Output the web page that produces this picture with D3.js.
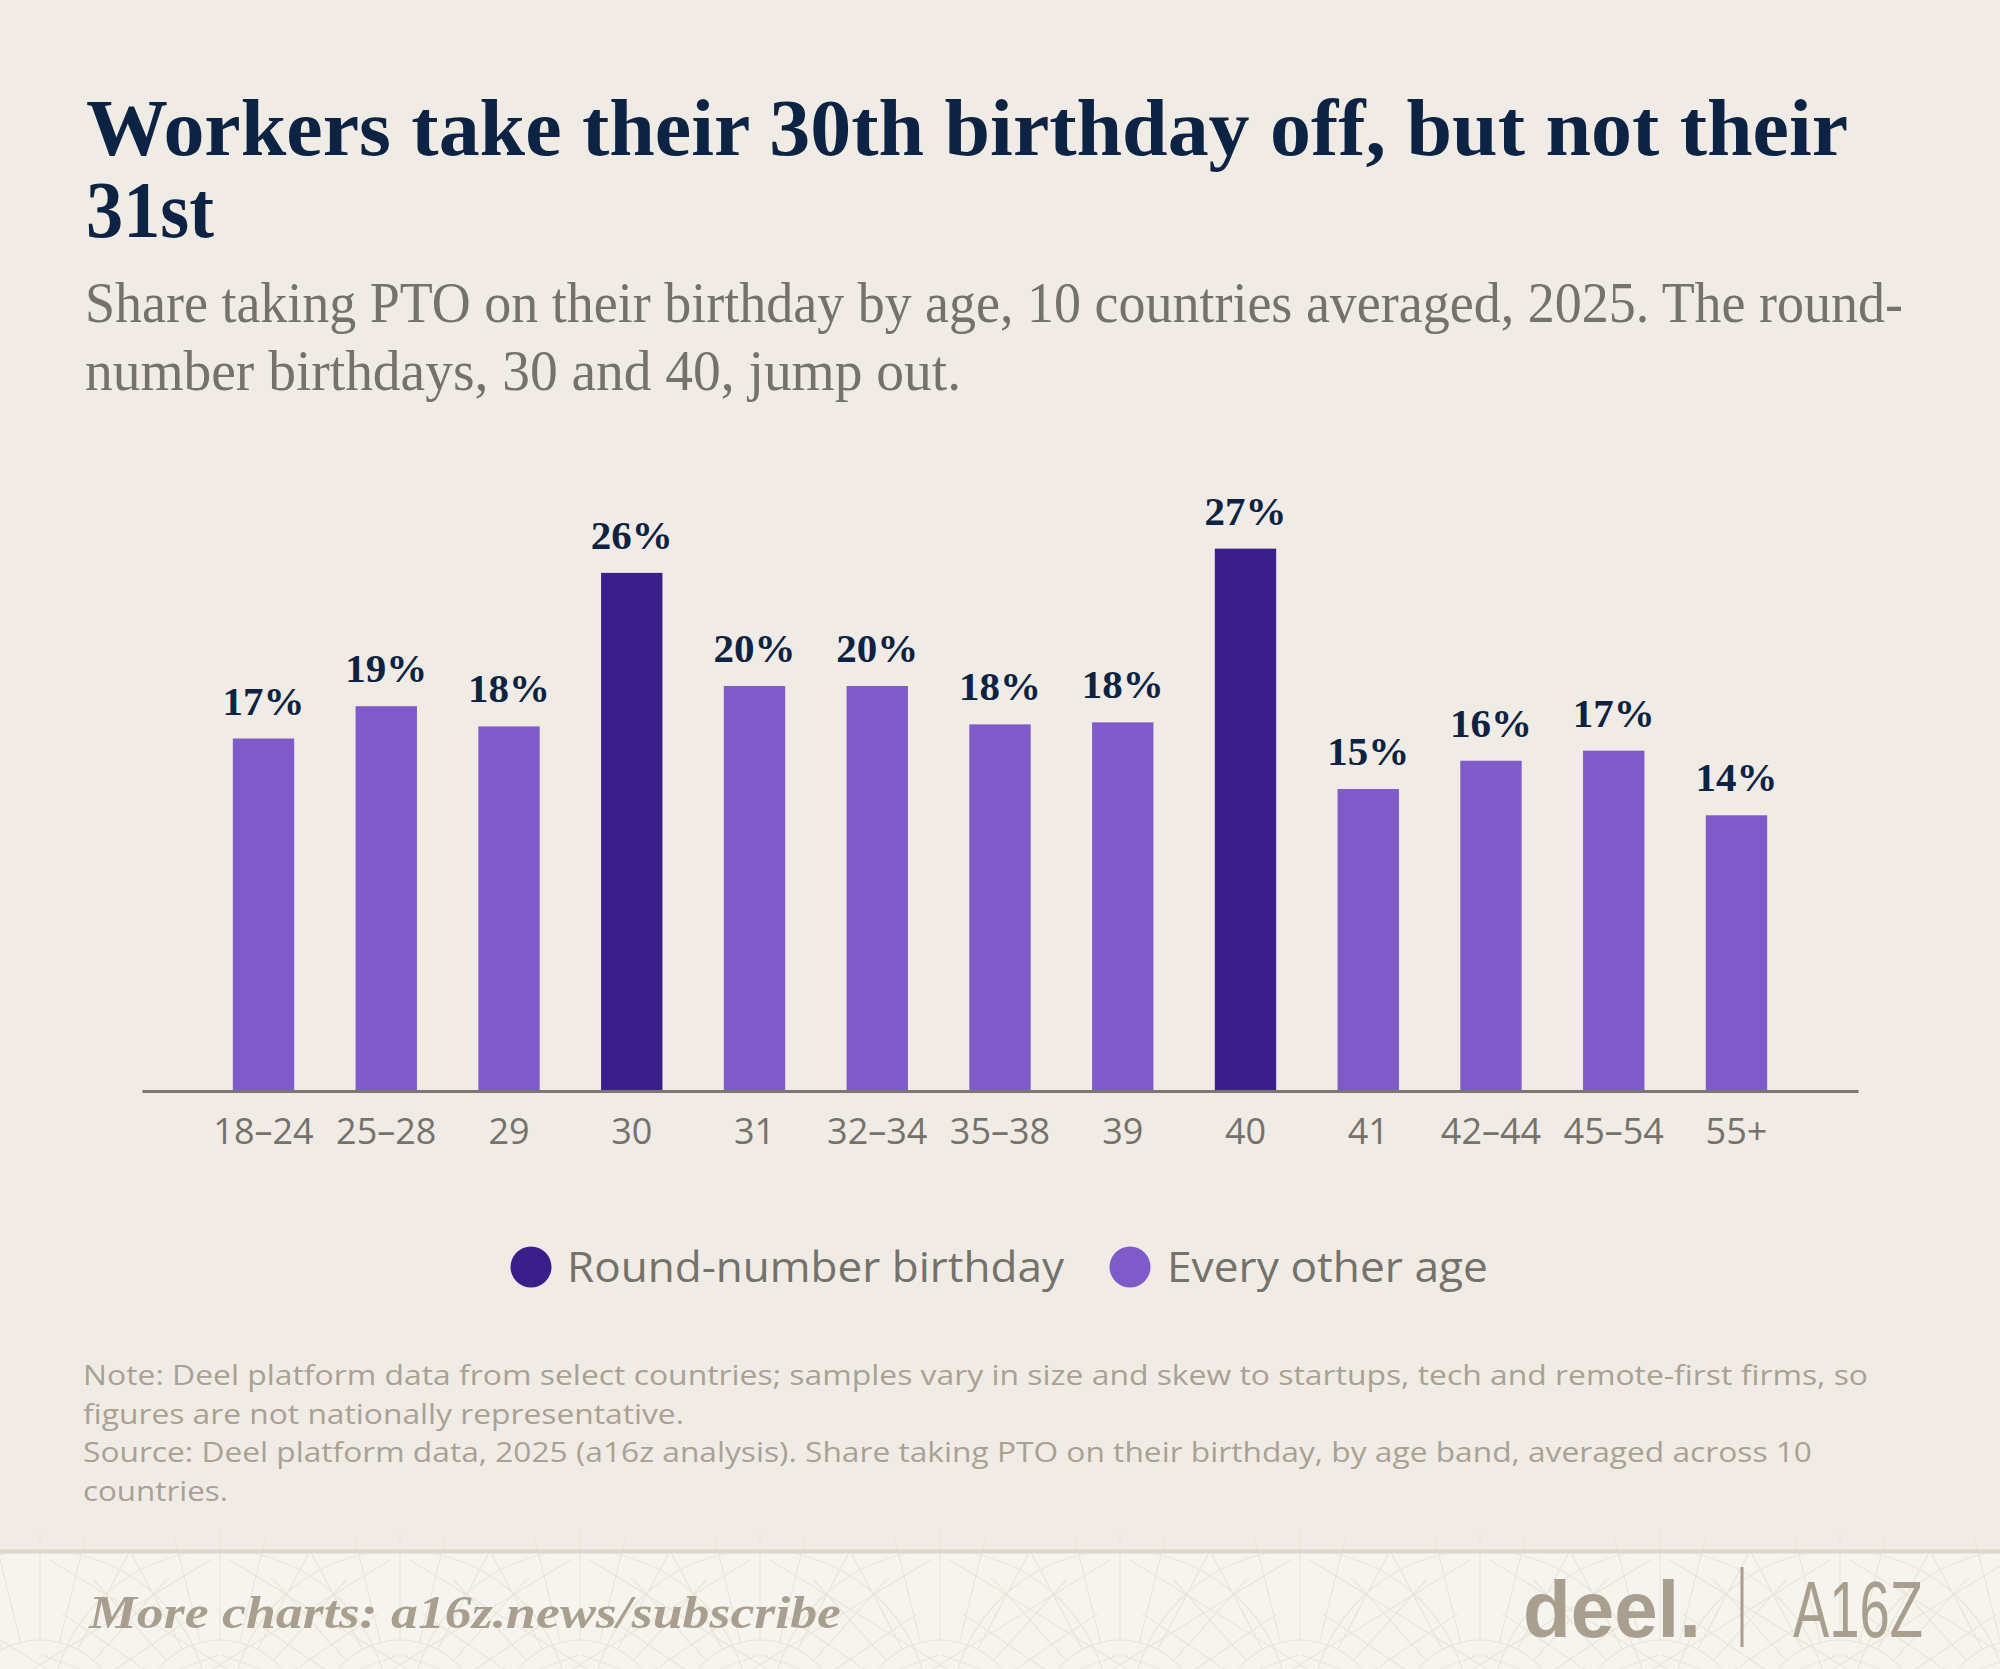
<!DOCTYPE html>
<html><head><meta charset="utf-8">
<script src="https://cdn.jsdelivr.net/npm/d3@7"></script>
<style>html,body{margin:0;padding:0;background:#f0ece5;} svg{display:block}</style>
</head><body>
<svg id="chart" width="2000" height="1669"></svg>
<script>
// ---------- data ----------
const categories = ["18–24","25–28","29","30","31","32–34","35–38","39","40","41","42–44","45–54","55+"];
const values = [17.4, 19.0, 18.0, 25.6, 20.0, 20.0, 18.1, 18.2, 26.8, 14.9, 16.3, 16.8, 13.6];
const roundAges = ["30","40"];
const legendLabels = ["Round-number birthday","Every other age"];
const titleLines = ["Workers take their 30th birthday off, but not their","31st"];
const subtitleLines = ["Share taking PTO on their birthday by age, 10 countries averaged, 2025. The round-","number birthdays, 30 and 40, jump out."];
const noteLines = [
  "Note: Deel platform data from select countries; samples vary in size and skew to startups, tech and remote-first firms, so",
  "figures are not nationally representative.",
  "Source: Deel platform data, 2025 (a16z analysis). Share taking PTO on their birthday, by age band, averaged across 10",
  "countries."
];
const footerText = "More charts: a16z.news/subscribe";

// ---------- styles ----------
const C = {
  bg: "#f0ece5", footerBg: "#f6f4ef", navy: "#0c2343", gray: "#75726b",
  note: "#a9a193", light: "#7e5bc8", dark: "#3a1e8a", axis: "#7b776f", logo: "#a89f8f"
};
const SERIF = "'Liberation Serif','Times New Roman',serif";
const SANS = "'Open Sans','Noto Sans',sans-serif";

const svg = d3.select("#chart");
svg.append("rect").attr("width",2000).attr("height",1669).attr("fill",C.bg);

function fit(sel, w){ sel.attr("textLength", w).attr("lengthAdjust","spacingAndGlyphs"); return sel; }

// ---------- title ----------
const titleW = [1762, 128];
titleLines.forEach((t,i)=>{
  fit(svg.append("text").attr("x",86).attr("y",155+i*82)
    .attr("font-family",SERIF).attr("font-weight",700).attr("font-size",80)
    .attr("fill",C.navy).text(t), titleW[i]);
});
const subW = [1818, 876];
subtitleLines.forEach((t,i)=>{
  fit(svg.append("text").attr("x",85).attr("y",322+i*68)
    .attr("font-family",SERIF).attr("font-weight",400).attr("font-size",56)
    .attr("fill",C.gray).text(t), subW[i]);
});

// ---------- chart ----------
const x = d3.scaleBand().domain(categories).range([142,1858]).paddingInner(0.5).paddingOuter(0.74);
const y = d3.scaleLinear().domain([0,30]).range([1090, 1090-30*20.2]);
const data = categories.map((c,i)=>({cat:c, v:values[i]}));

svg.append("g").selectAll("rect").data(data).join("rect")
  .attr("x",d=>x(d.cat)).attr("width",x.bandwidth())
  .attr("y",d=>y(d.v)).attr("height",d=>y(0)-y(d.v))
  .attr("fill",d=>roundAges.includes(d.cat)?C.dark:C.light);

svg.append("g").selectAll("text").data(data).join("text")
  .attr("x",d=>x(d.cat)+x.bandwidth()/2).attr("y",d=>y(d.v)-24)
  .attr("text-anchor","middle").attr("font-family",SERIF).attr("font-weight",700)
  .attr("font-size",41).attr("fill",C.navy)
  .text(d=>Math.round(d.v)+"%");

const axis = svg.append("g").attr("transform","translate(0,1091)")
  .call(d3.axisBottom(x).tickSize(0).tickSizeOuter(0));
axis.select(".domain").attr("stroke",C.axis).attr("stroke-width",3);
axis.selectAll(".tick text").attr("y",53).attr("dy",0)
  .attr("font-family",SANS).attr("font-size",36).attr("fill",C.gray);

// ---------- legend ----------
const legendPos = [{cx:531, tx:567, w:497, color:C.dark},{cx:1130, tx:1167, w:321, color:C.light}];
legendLabels.forEach((l,i)=>{
  const p = legendPos[i];
  svg.append("circle").attr("cx",p.cx).attr("cy",1267).attr("r",20.5).attr("fill",p.color);
  fit(svg.append("text").attr("x",p.tx).attr("y",1282).attr("font-family",SANS)
    .attr("font-size",42).attr("fill",C.gray).text(l), p.w);
});

// ---------- notes ----------
const noteW = [1785, 601, 1729, 145];
noteLines.forEach((t,i)=>{
  fit(svg.append("text").attr("x",83).attr("y",1385+i*38.5).attr("font-family",SANS)
    .attr("font-size",27).attr("fill",C.note).text(t), noteW[i]);
});

// ---------- footer ----------
svg.append("rect").attr("x",0).attr("y",1552).attr("width",2000).attr("height",117).attr("fill",C.footerBg);
const pat = svg.append("g").attr("fill","none").attr("stroke","#ebe4d8").attr("stroke-width",1.2);
for(let k=0;k<12;k++){
  const cx = 40 + k*180, cy = 1720;
  pat.append("circle").attr("cx",cx).attr("cy",cy).attr("r",170);
  pat.append("circle").attr("cx",cx).attr("cy",cy).attr("r",80);
  for(let a=-70;a<=70;a+=14){
    const r = a*Math.PI/180;
    pat.append("line").attr("x1",cx+80*Math.sin(r)).attr("y1",cy-80*Math.cos(r))
      .attr("x2",cx+190*Math.sin(r)).attr("y2",cy-190*Math.cos(r));
  }
  pat.append("line").attr("x1",cx-170).attr("y1",1560).attr("x2",cx+90).attr("y2",1720);
  pat.append("line").attr("x1",cx+170).attr("y1",1560).attr("x2",cx-90).attr("y2",1720);
}
svg.append("line").attr("x1",0).attr("x2",2000).attr("y1",1551.5).attr("y2",1551.5)
  .attr("stroke","#ddd6cb").attr("stroke-width",4);

fit(svg.append("text").attr("x",89).attr("y",1628).attr("font-family",SERIF)
  .attr("font-weight",700).attr("font-style","italic").attr("font-size",46)
  .attr("fill",C.logo).text(footerText), 752);

fit(svg.append("text").attr("x",1523).attr("y",1637).attr("font-family","'Liberation Sans',Arial,sans-serif")
  .attr("font-weight",700).attr("font-size",80).attr("fill",C.logo).text("deel."), 178);
svg.append("line").attr("x1",1742).attr("x2",1742).attr("y1",1567).attr("y2",1647)
  .attr("stroke",C.logo).attr("stroke-width",3);
fit(svg.append("text").attr("x",1793).attr("y",1637).attr("font-family","'Liberation Sans',Arial,sans-serif")
  .attr("font-weight",400).attr("font-size",80).attr("fill",C.logo).text("A16Z"), 130);
</script>
</body></html>
